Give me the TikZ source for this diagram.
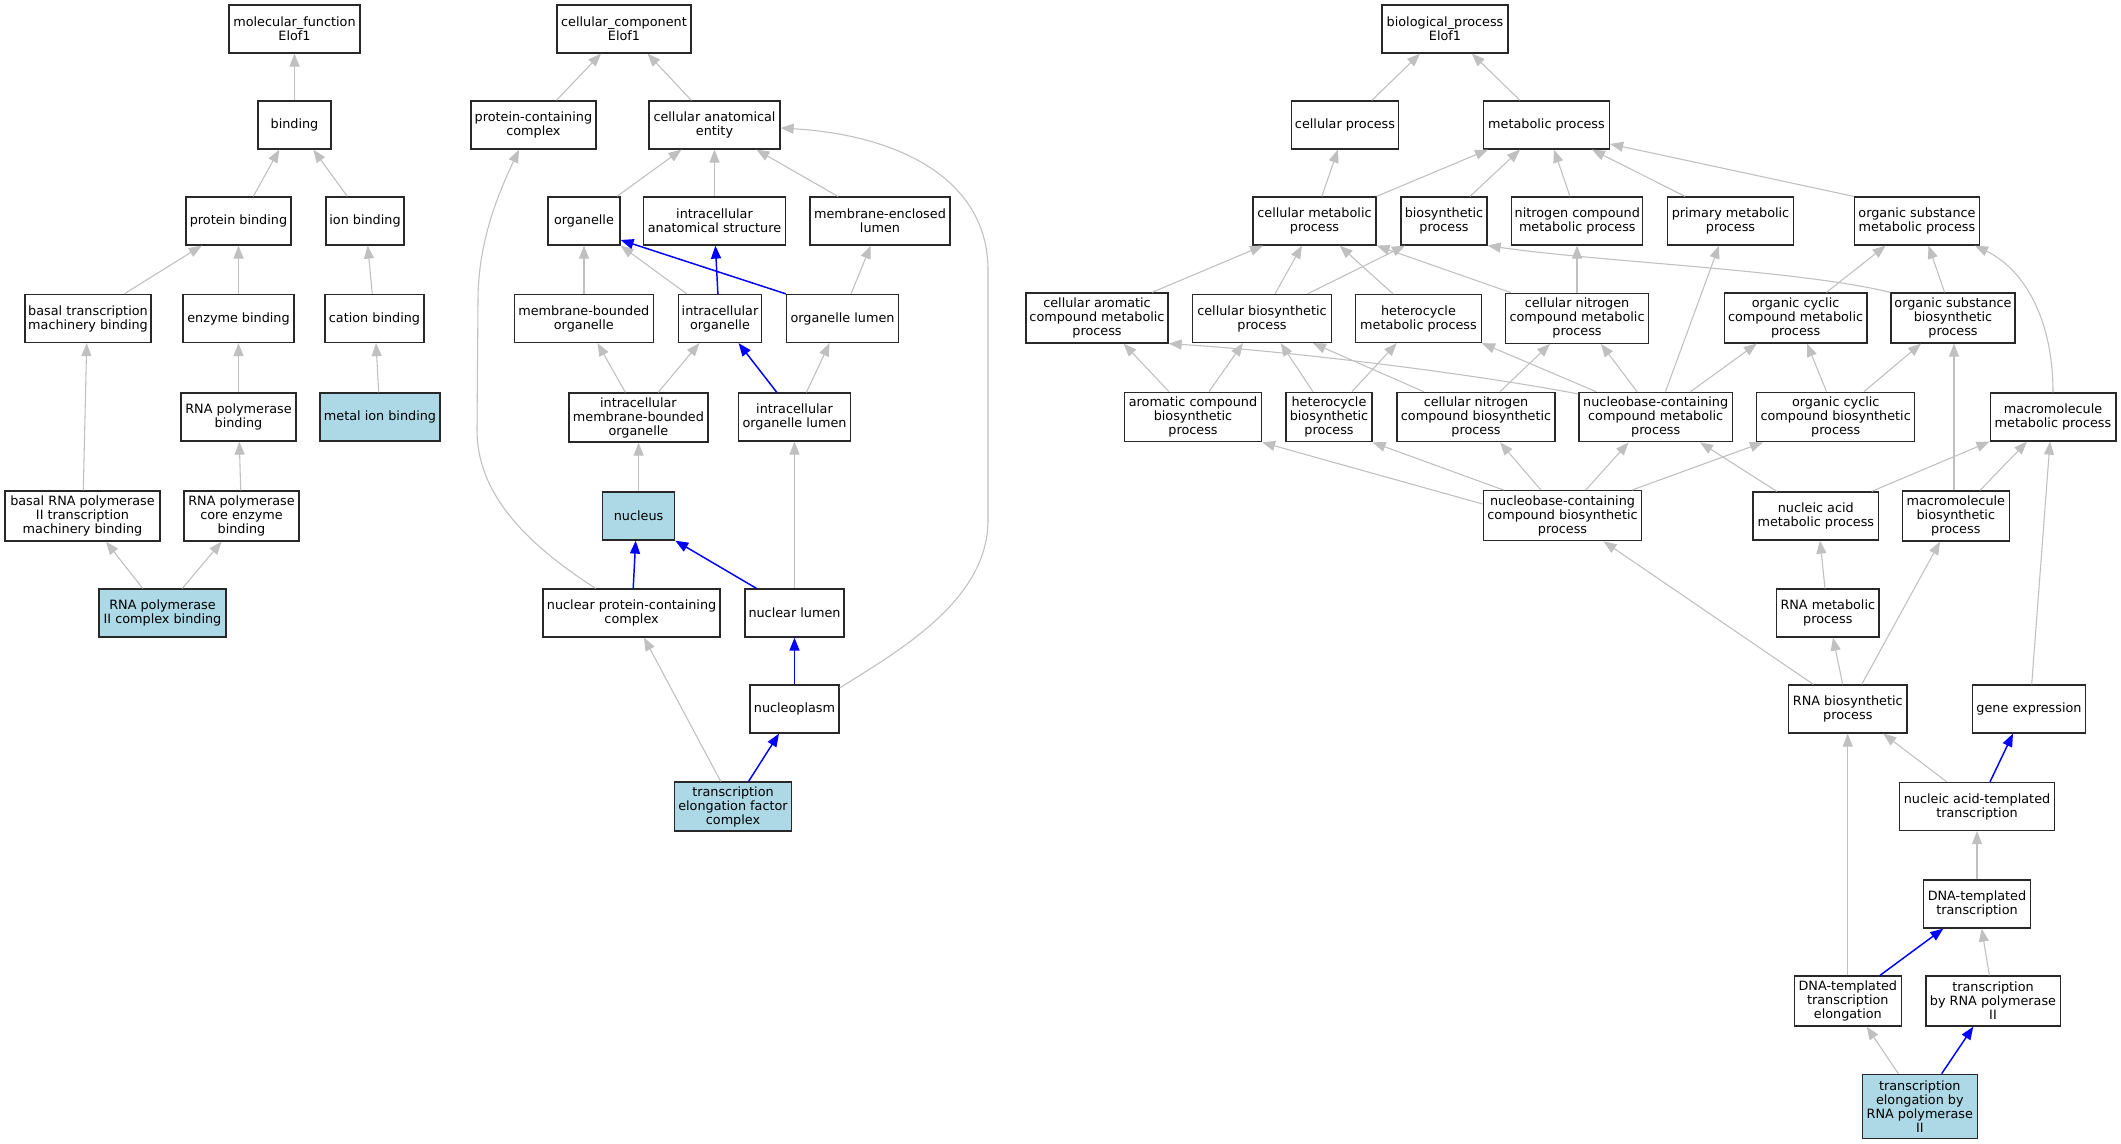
\documentclass[tikz,border=0pt]{standalone}
\usepackage{fontspec}
\setmainfont{DejaVu Sans}
\usetikzlibrary{arrows.meta}
\definecolor{edgegray}{RGB}{192,192,192}
\definecolor{hlblue}{RGB}{173,216,230}
\definecolor{boxline}{RGB}{40,40,40}
\tikzset{
  bw/.style={minimum width=#1*0.75pt},
  bh/.style={minimum height=#1*0.75pt},
  box/.style={draw=boxline, line width=0.95pt, fill=white, rectangle, align=center,
    inner xsep=1pt, inner ysep=1pt, minimum height=36pt,
    font=\fontsize{9.6}{10.5}\selectfont},
  hl/.style={box, fill=hlblue},
  ge/.style={draw=edgegray, line width=0.8pt, -{Triangle[length=9.75pt,width=7.5pt]}},
  be/.style={draw=blue, line width=1.1pt, -{Triangle[length=9.75pt,width=7.5pt]}}
}
\begin{document}
\begin{tikzpicture}[x=0.75pt,y=-0.75pt]
\fill[white] (0,0) rectangle (2121,1144);
\useasboundingbox (0,0) rectangle (2121,1144);

% ---------------- molecular function ----------------
\node[box,bw=131] (mf) at (294.5,29) {molecular\_function\\Elof1};
\node[box,bw=73] (bind) at (294.5,125) {binding};
\node[box,bw=105] (pbind) at (238.5,221) {protein binding};
\node[box,bw=78] (ionb) at (365,221) {ion binding};
\node[box,bw=126] (btmb) at (88,318.5) {basal transcription\\machinery binding};
\node[box,bw=111] (enzb) at (238.5,318.5) {enzyme binding};
\node[box,bw=99] (catb) at (374.5,318.5) {cation binding};
\node[box,bw=115] (rnapb) at (238.5,417) {RNA polymerase\\binding};
\node[hl,bw=120] (mib) at (380,417) {metal ion binding};
\node[box,bw=155,bh=50] (brnap) at (82.5,516) {basal RNA polymerase\\II transcription\\machinery binding};
\node[box,bw=115,bh=50] (core) at (241.5,516) {RNA polymerase\\core enzyme\\binding};
\node[hl,bw=127] (rnap2) at (162.5,613) {RNA polymerase\\II complex binding};

\draw[ge] (bind.north) -- (mf.south);
\draw[ge] (pbind.north -| 253.3,0) -- (bind.south -| 279.3,0);
\draw[ge] (ionb.north -| 347.3,0) -- (bind.south -| 313.3,0);
\draw[ge] (btmb.north -| 124.3,0) -- (pbind.south -| 201.7,0);
\draw[ge] (enzb.north) -- (pbind.south);
\draw[ge] (catb.north -| 372.3,0) -- (ionb.south -| 367.7,0);
\draw[ge] (rnapb.north) -- (enzb.south);
\draw[ge] (mib.north -| 378.7,0) -- (catb.south -| 376,0);
\draw[ge] (brnap.north -| 83.3,0) -- (btmb.south -| 86.7,0);
\draw[ge] (core.north -| 240.7,0) -- (rnapb.south -| 239.3,0);
\draw[ge] (rnap2.north -| 142.7,0) -- (brnap.south -| 106,0);
\draw[ge] (rnap2.north -| 182.3,0) -- (core.south -| 221.7,0);

% ---------------- cellular component ----------------
\node[box,bw=134] (cc) at (624,29) {cellular\_component\\Elof1};
\node[box,bw=125] (pcc) at (533.4,125) {protein-containing\\complex};
\node[box,bw=131] (cae) at (714.5,125) {cellular anatomical\\entity};
\node[box,bw=72] (org) at (584,221) {organelle};
\node[box,bw=142] (ias) at (714.5,221) {intracellular\\anatomical structure};
\node[box,bw=140] (mel) at (880,221) {membrane-enclosed\\lumen};
\node[box,bw=139] (mbo) at (583.8,318.5) {membrane-bounded\\organelle};
\node[box,bw=83] (io) at (720,318.5) {intracellular\\organelle};
\node[box,bw=112] (ol) at (842.5,318.5) {organelle lumen};
\node[box,bw=139,bh=49] (imbo) at (638.4,417.5) {intracellular\\membrane-bounded\\organelle};
\node[box,bw=112.5] (iol) at (794.5,417) {intracellular\\organelle lumen};
\node[hl,bw=72] (nuc) at (638.6,516) {nucleus};
\node[box,bw=177] (npcc) at (631.6,613) {nuclear protein-containing\\complex};
\node[box,bw=99] (nl) at (794.5,613) {nuclear lumen};
\node[box,bw=89] (npl) at (794.5,709) {nucleoplasm};
\node[hl,bw=117.5,bh=49] (tefc) at (733,806.5) {transcription\\elongation factor\\complex};

\draw[ge] (pcc.north -| 556.4,0) -- (cc.south -| 601,0);
\draw[ge] (cae.north -| 691.4,0) -- (cc.south -| 647.5,0);
\draw[ge] (org.north -| 617,0) -- (cae.south -| 681.4,0);
\draw[ge] (ias.north) -- (cae.south);
\draw[ge] (mel.north -| 837.9,0) -- (cae.south -| 756.4,0);
\draw[ge] (mbo.north -| 584,0) -- (org.south -| 584,0);
\draw[ge] (io.north -| 686.8,0) -- (org.south east);
\draw[be] (ol.north west) -- (org.east |- 0,240);
\draw[be] (io.north -| 717.9,0) -- (ias.south -| 715.4,0);
\draw[ge] (ol.north -| 851,0) -- (mel.south -| 870.7,0);
\draw[ge] (imbo.north -| 625.4,0) -- (mbo.south -| 597.5,0);
\draw[ge] (imbo.north -| 658.2,0) -- (io.south -| 699.3,0);
\draw[be] (iol.north -| 776.8,0) -- (io.south -| 738.6,0);
\draw[ge] (iol.north -| 806.4,0) -- (ol.south -| 829.6,0);
\draw[ge] (nuc.north) -- (nuc.north |- imbo.south);
\draw[ge] (nl.north) -- (nl.north |- iol.south);
\draw[be] (npcc.north -| 633.2,0) -- (nuc.south -| 635.7,0);
\draw[be] (nl.north -| 756.4,0) -- (nuc.south east);
\draw[be] (npl.north) -- (nl.south);
\draw[ge] (tefc.north -| 720.7,0) -- (npcc.south -| 644,0);
\draw[be] (tefc.north -| 748.6,0) -- (npl.south -| 779,0);
\draw[ge] (npl.east |- 0,688) .. controls (900,650) and (988,600) .. (988,520)
  -- (988,270) .. controls (988,180) and (900,135) .. (cae.east |- 0,128);
\draw[ge] (npcc.north -| 595.7,0) .. controls (520,540) and (477,490) .. (477,430)
  -- (478,300) .. controls (478,240) and (500,190) .. (pcc.south -| 519,0);

% ---------------- biological process ----------------
\node[box,bw=126] (bp) at (1445,29) {biological\_process\\Elof1};
\node[box,bw=107.5] (cp) at (1345,125) {cellular process};
\node[box,bw=126] (mp) at (1546.5,125) {metabolic process};
\node[box,bw=123] (cmp) at (1314.5,221) {cellular metabolic\\process};
\node[box,bw=86] (bsp) at (1444,221) {biosynthetic\\process};
\node[box,bw=131] (ncmp) at (1577.3,221) {nitrogen compound\\metabolic process};
\node[box,bw=126.4] (pmp) at (1730.5,221) {primary metabolic\\process};
\node[box,bw=125.5] (osmp) at (1917,221) {organic substance\\metabolic process};
\node[box,bw=142,bh=50] (cacmp) at (1097,318) {cellular aromatic\\compound metabolic\\process};
\node[box,bw=139] (cbp) at (1262,318.5) {cellular biosynthetic\\process};
\node[box,bw=125.7] (hmp) at (1418.5,318.5) {heterocycle\\metabolic process};
\node[box,bw=142.3,bh=50] (cncmp) at (1577,318.3) {cellular nitrogen\\compound metabolic\\process};
\node[box,bw=142.8,bh=50] (occmp) at (1795.6,318) {organic cyclic\\compound metabolic\\process};
\node[box,bw=124,bh=50] (osbp) at (1953,318) {organic substance\\biosynthetic\\process};
\node[box,bw=137,bh=49.5] (acbp) at (1193,417) {aromatic compound\\biosynthetic\\process};
\node[box,bw=86,bh=49.5] (hbp) at (1329,417) {heterocycle\\biosynthetic\\process};
\node[box,bw=158,bh=49.5] (cncbp) at (1476,417) {cellular nitrogen\\compound biosynthetic\\process};
\node[box,bw=153.5,bh=49.5] (nccmp) at (1655.7,417) {nucleobase-containing\\compound metabolic\\process};
\node[box,bw=158,bh=49.5] (occbp) at (1835.7,417) {organic cyclic\\compound biosynthetic\\process};
\node[box,bw=125.7] (mmp) at (2053,417) {macromolecule\\metabolic process};
\node[box,bw=158.6,bh=50] (nccbp) at (1562.5,515.7) {nucleobase-containing\\compound biosynthetic\\process};
\node[box,bw=125.7] (namp) at (1815.8,516) {nucleic acid\\metabolic process};
\node[box,bw=107,bh=50] (mbp) at (1955.8,516) {macromolecule\\biosynthetic\\process};
\node[box,bw=102.3] (rmp) at (1827.8,613) {RNA metabolic\\process};
\node[box,bw=118.3] (rbp) at (1847.8,709) {RNA biosynthetic\\process};
\node[box,bw=113] (gex) at (2029,709) {gene expression};
\node[box,bw=155] (natt) at (1977,806.5) {nucleic acid-templated\\transcription};
\node[box,bw=107] (dtt) at (1977,904) {DNA-templated\\transcription};
\node[box,bw=107,bh=50] (dtte) at (1847.8,1001) {DNA-templated\\transcription\\elongation};
\node[box,bw=134.3,bh=50] (trp2) at (1993,1001) {transcription\\by RNA polymerase\\II};
\node[hl,bw=115,bh=64] (tep2) at (1919.8,1106.3) {transcription\\elongation by\\RNA polymerase\\II};

\draw[ge] (cp.north -| 1371.8,0) -- (bp.south -| 1420,0);
\draw[ge] (mp.north -| 1520,0) -- (bp.south -| 1471.8,0);
\draw[ge] (cmp.north -| 1321.8,0) -- (cp.south -| 1337.9,0);
\draw[ge] (cmp.north east) -- (mp.south -| 1488,0);
\draw[ge] (bsp.north -| 1470,0) -- (mp.south -| 1520,0);
\draw[ge] (ncmp.north -| 1570,0) -- (mp.south -| 1554,0);
\draw[ge] (pmp.north -| 1685,0) -- (mp.south -| 1592,0);
\draw[ge] (osmp.north west) -- (mp.east |- 0,144);
\draw[ge] (cacmp.north -| 1152,0) -- (cmp.south -| 1263,0);
\draw[ge] (cbp.north -| 1275,0) -- (cmp.south -| 1302,0);
\draw[ge] (hmp.north -| 1393,0) -- (cmp.south -| 1339.6,0);
\draw[ge] (cncmp.north -| 1511,0) -- (cmp.south east);
\draw[ge] (cbp.north -| 1307.5,0) -- (bsp.south -| 1405,0);
\draw[ge] (cncmp.north) -- (cncmp.north |- ncmp.south);
\draw[ge] (osbp.north west) .. controls (1800,270) and (1600,262) .. (bsp.south east);
\draw[ge] (osbp.north -| 1944.6,0) -- (osmp.south -| 1928.5,0);
\draw[ge] (occmp.north -| 1826.5,0) -- (osmp.south -| 1885.6,0);
\draw[ge] (mmp.north -| 2053,0) .. controls (2053,320) and (2025,270) .. (osmp.south -| 1975,0);
\draw[ge] (acbp.north -| 1169,0) -- (cacmp.south -| 1123.6,0);
\draw[ge] (acbp.north -| 1209,0) -- (cbp.south -| 1243,0);
\draw[ge] (hbp.north -| 1312.9,0) -- (cbp.south -| 1280.7,0);
\draw[ge] (hbp.north -| 1352,0) -- (hmp.south -| 1396.8,0);
\draw[ge] (cncbp.north -| 1423.6,0) -- (cbp.south -| 1312.9,0);
\draw[ge] (cncbp.north -| 1500,0) -- (cncmp.south -| 1550,0);
\draw[ge] (nccmp.west |- 0,394) .. controls (1480,375) and (1300,352) .. (cacmp.south east);
\draw[ge] (nccmp.north -| 1596,0) -- (hmp.south east);
\draw[ge] (nccmp.north -| 1637,0) -- (cncmp.south -| 1601,0);
\draw[ge] (nccmp.north -| 1665.5,0) -- (pmp.south -| 1719,0);
\draw[ge] (nccmp.north -| 1690.6,0) -- (occmp.south -| 1756.8,0);
\draw[ge] (occbp.north -| 1826.5,0) -- (occmp.south -| 1807,0);
\draw[ge] (occbp.north -| 1864,0) -- (osbp.south -| 1921,0);
\draw[ge] (mbp.north -| 1954,0) -- (osbp.south -| 1954,0);
\draw[ge] (mbp.north -| 1980,0) -- (mmp.south -| 2027,0);
\draw[ge] (namp.north -| 1776.7,0) -- (nccmp.south -| 1700,0);
\draw[ge] (namp.north -| 1871.7,0) -- (mmp.south west);
\draw[ge] (nccbp.west |- 0,504) -- (acbp.south east);
\draw[ge] (nccbp.north -| 1503.6,0) -- (hbp.south east);
\draw[ge] (nccbp.north -| 1541,0) -- (cncbp.south -| 1500,0);
\draw[ge] (nccbp.north -| 1585.7,0) -- (nccmp.south -| 1628.6,0);
\draw[ge] (nccbp.north -| 1632,0) -- (occbp.south -| 1763,0);
\draw[ge] (rmp.north -| 1825,0) -- (namp.south -| 1820,0);
\draw[ge] (rbp.north -| 1842.7,0) -- (rmp.south -| 1833,0);
\draw[ge] (rbp.north -| 1861.7,0) -- (mbp.south -| 1940,0);
\draw[ge] (rbp.north -| 1813.3,0) -- (nccbp.south -| 1603.6,0);
\draw[ge] (gex.north -| 2031.7,0) -- (mmp.south -| 2050,0);
\draw[ge] (natt.north -| 1946.7,0) -- (rbp.south -| 1883.3,0);
\draw[be] (natt.north -| 1990,0) -- (gex.south -| 2013,0);
\draw[ge] (dtt.north) -- (natt.south);
\draw[ge] (dtte.north -| 1847.7,0) -- (rbp.south -| 1847.7,0);
\draw[be] (dtte.north -| 1880,0) -- (dtt.south -| 1943.3,0);
\draw[ge] (trp2.north -| 1989.3,0) -- (dtt.south -| 1981.7,0);
\draw[ge] (tep2.north -| 1898.3,0) -- (dtte.south -| 1866.7,0);
\draw[be] (tep2.north -| 1941.7,0) -- (trp2.south -| 1973.3,0);
\end{tikzpicture}
\end{document}
